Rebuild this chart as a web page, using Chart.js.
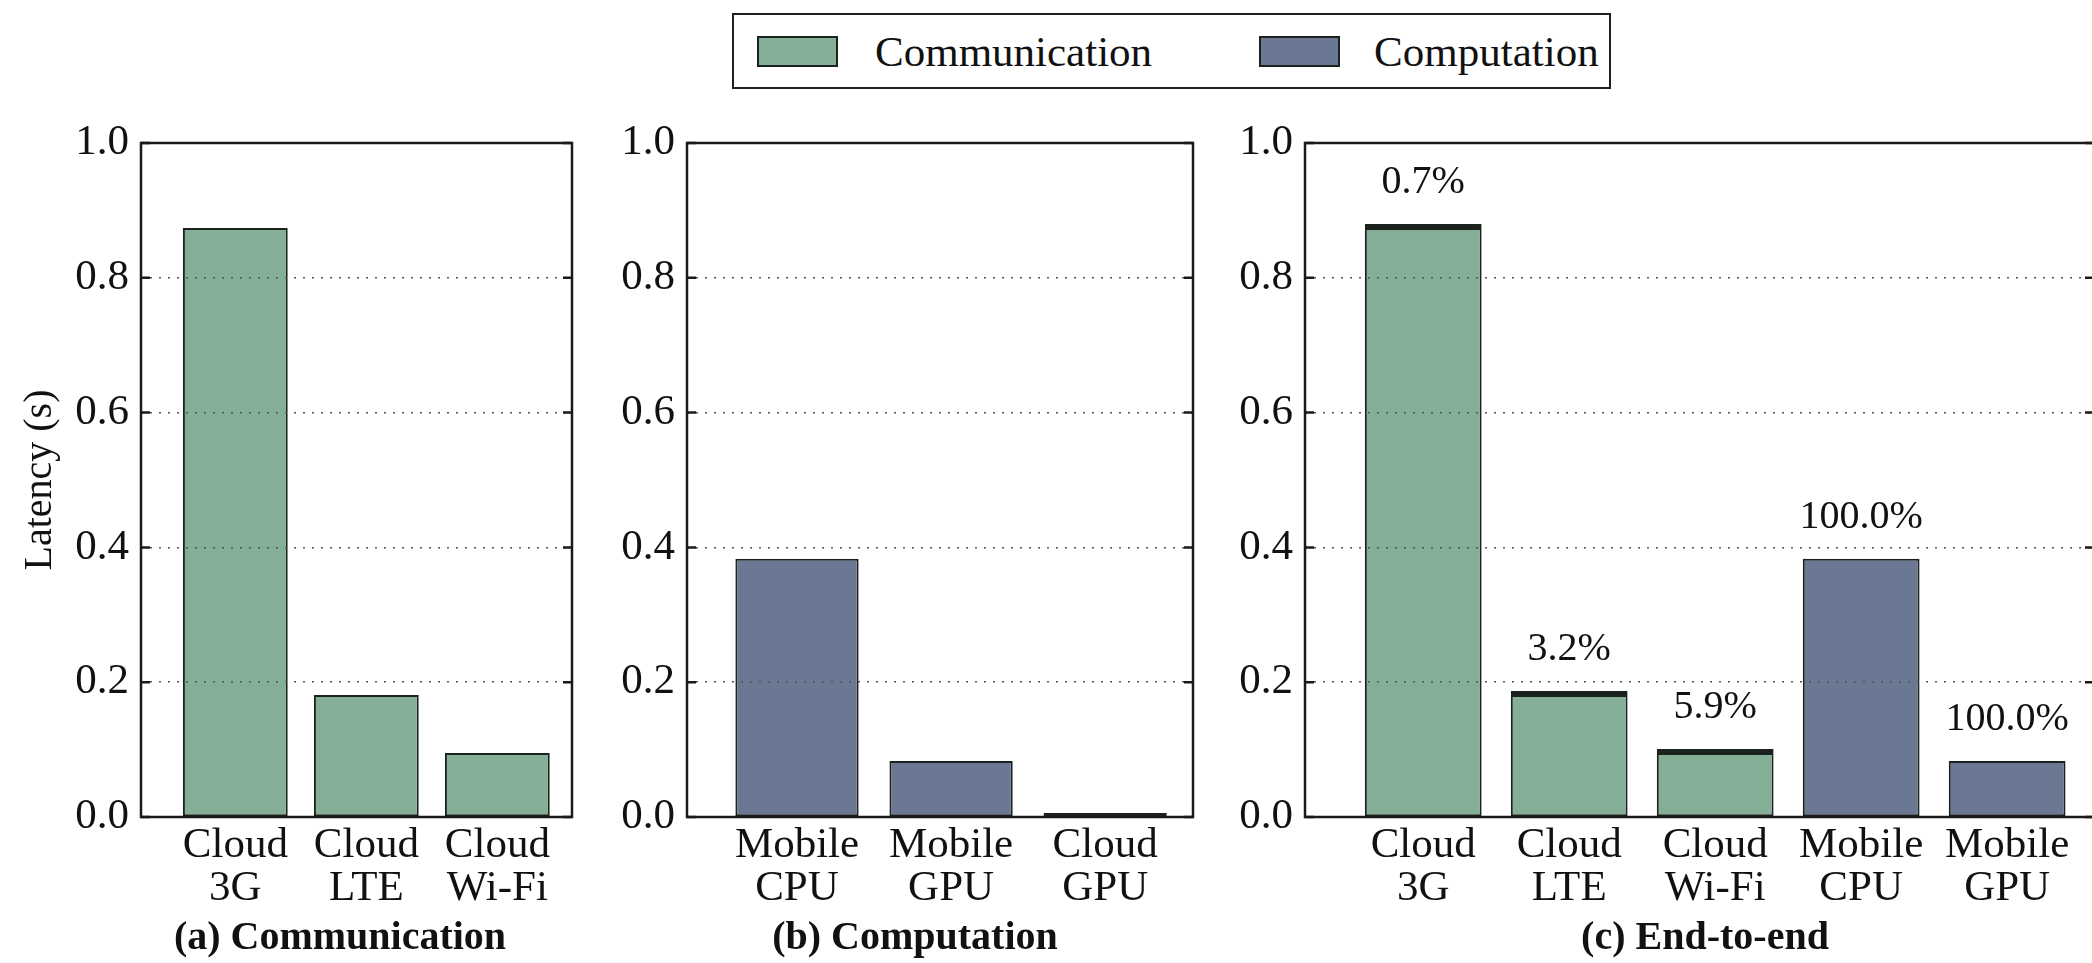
<!DOCTYPE html>
<html>
<head>
<meta charset="utf-8">
<title>Latency breakdown</title>
<script src="https://cdn.jsdelivr.net/npm/chart.js@4/dist/chart.umd.min.js"></script>
<style>
  html, body { margin: 0; padding: 0; background: #fff; width: 2092px; height: 963px; overflow: hidden; }
  canvas { position: absolute; top: 0; }
  #legend {
    position: absolute; left: 732px; top: 13px; width: 875px; height: 72px;
    border: 2px solid #1f1f1f; display: flex; align-items: center;
    font-family: 'Liberation Serif', 'Times New Roman', 'DejaVu Serif', serif; font-size: 43px; color: #111;
  }
  #legend .swatch { display: inline-block; width: 81px; height: 31px; box-sizing: border-box; border: 2px solid; }
  #legend .label { white-space: nowrap; }
</style>
</head>
<body>
<div id="legend"></div>
<canvas id="panelComm" width="680" height="963" style="left:0px"></canvas>
<canvas id="panelComp" width="630" height="963" style="left:600px"></canvas>
<canvas id="panelE2E" width="950" height="963" style="left:1230px"></canvas>
<script>
// ---- data -------------------------------------------------------------
const commCategories = [['Cloud', '3G'], ['Cloud', 'LTE'], ['Cloud', 'Wi-Fi']];
const compCategories = [['Mobile', 'CPU'], ['Mobile', 'GPU'], ['Cloud', 'GPU']];
const e2eCategories  = [['Cloud', '3G'], ['Cloud', 'LTE'], ['Cloud', 'Wi-Fi'], ['Mobile', 'CPU'], ['Mobile', 'GPU']];

const commLatency    = [0.874, 0.181, 0.095];          // seconds
const compLatency    = [0.383, 0.083, 0.006];          // seconds
const e2eCommLatency = [0.874, 0.181, 0.095, null, null];
const e2eCompLatency = [0.006, 0.006, 0.006, 0.383, 0.083];

const yTickValues = [0, 0.2, 0.4, 0.6, 0.8, 1.0];
const seriesNames = ['Communication', 'Computation'];
const captions    = ['(a) Communication', '(b) Computation', '(c) End-to-end'];
const yAxisTitle  = 'Latency (s)';

// ---- style ------------------------------------------------------------
const FONT  = "'Liberation Serif', 'Times New Roman', 'DejaVu Serif', serif";
const GREEN = '#84ae96';
const SLATE = '#6b7893';
const EDGE  = '#1b221e';
const INK   = '#111111';

Chart.defaults.font.family = FONT;
Chart.defaults.color = INK;

function points(values) {
  return values.map((v, i) => ({ x: i, y: v })).filter(p => p.y !== null);
}

function barSet(label, values, color) {
  return {
    label, data: points(values),
    backgroundColor: color, borderColor: EDGE, borderWidth: 2,
    borderSkipped: false, categoryPercentage: 1.0, barPercentage: 0.8
  };
}

// closed axes box with short inward ticks on both vertical spines
const axesFrame = {
  id: 'axesFrame',
  afterDraw(chart) {
    const { ctx, chartArea: a, scales: { y } } = chart;
    ctx.save();
    ctx.strokeStyle = '#1a1a1a';
    ctx.lineWidth = 2.5;
    ctx.beginPath();
    y.ticks.forEach(t => {
      const py = y.getPixelForValue(t.value);
      ctx.moveTo(a.left, py);  ctx.lineTo(a.left + 9, py);
      ctx.moveTo(a.right, py); ctx.lineTo(a.right - 9, py);
    });
    ctx.stroke();
    ctx.strokeRect(a.left, a.top, a.right - a.left, a.bottom - a.top);
    ctx.restore();
  }
};

// share of computation in each end-to-end bar
const shareLabels = {
  id: 'shareLabels',
  afterDatasetsDraw(chart) {
    const { ctx, scales: { x, y } } = chart;
    ctx.save();
    ctx.font = '40px ' + FONT;
    ctx.fillStyle = INK;
    ctx.textAlign = 'center';
    ctx.textBaseline = 'alphabetic';
    e2eCompLatency.forEach((comp, i) => {
      const total = (e2eCommLatency[i] || 0) + comp;
      const share = (comp / total * 100).toFixed(1) + '%';
      ctx.fillText(share, x.getPixelForValue(i), y.getPixelForValue(total) - 31);
    });
    ctx.restore();
  }
};

// figure-level legend built from the chart's own legend items
const htmlLegend = {
  id: 'htmlLegend',
  afterUpdate(chart) {
    const box = document.getElementById('legend');
    box.innerHTML = '';
    const items = chart.options.plugins.legend.labels.generateLabels(chart);
    const gaps = [[23, 37], [107, 34]];
    items.forEach((item, i) => {
      const sw = document.createElement('span');
      sw.className = 'swatch';
      sw.style.background = item.fillStyle;
      sw.style.borderColor = item.strokeStyle;
      sw.style.marginLeft = gaps[i][0] + 'px';
      const tx = document.createElement('span');
      tx.className = 'label';
      tx.textContent = item.text;
      tx.style.marginLeft = gaps[i][1] + 'px';
      box.appendChild(sw);
      box.appendChild(tx);
    });
  }
};

function makePanel(id, cfg) {
  return new Chart(document.getElementById(id), {
    type: 'bar',
    data: { datasets: cfg.datasets },
    options: {
      responsive: false,
      animation: false,
      events: [],
      layout: { padding: { top: 143, bottom: 0, left: 0, right: 0 } },
      plugins: {
        legend: { display: false },
        tooltip: { enabled: false },
        title: {
          display: true, position: 'bottom', text: cfg.caption, color: INK,
          font: { size: 40, weight: 'bold', lineHeight: 1.2 },
          padding: { top: 0, bottom: 0 }
        }
      },
      scales: {
        x: {
          type: 'linear', min: cfg.xMin, max: cfg.xMax, bounds: 'data',
          offset: false, stacked: true,
          grid: { display: false, drawTicks: false, offset: false },
          border: { display: false },
          afterBuildTicks: s => { s.ticks = cfg.labels.map((_, i) => ({ value: i })); },
          afterFit: s => { s.height = 98; },
          ticks: {
            autoSkip: false, maxRotation: 0, minRotation: 0, padding: 7.5,
            font: { size: 43, lineHeight: '43px' },
            callback: v => cfg.labels[v]
          }
        },
        y: {
          type: 'linear', position: 'left', min: 0, max: 1, stacked: true,
          afterBuildTicks: s => { s.ticks = yTickValues.map(v => ({ value: v })); },
          afterFit: s => { s.width = cfg.yWidth; },
          grid: {
            z: 1, drawTicks: false, lineWidth: 1.5,
            color: c => (c.tick && c.tick.value > 0.01 && c.tick.value < 0.99) ? '#555555' : 'rgba(0,0,0,0)'
          },
          border: { display: false, dash: [2, 7] },
          ticks: { padding: 12, font: { size: 43 }, callback: v => v.toFixed(1) },
          title: cfg.yTitle
            ? { display: true, text: cfg.yTitle, font: { size: 40, lineHeight: 1.2 }, padding: { top: 16, bottom: 0 } }
            : { display: false }
        },
        // empty right-hand axis that reserves the space between this panel and the next
        yGap: {
          type: 'linear', position: 'right', display: true, min: 0, max: 1,
          afterFit: s => { s.width = cfg.rightGap; },
          ticks: { display: false },
          grid: { display: false, drawTicks: false },
          border: { display: false },
          title: { display: false }
        }
      }
    },
    plugins: [axesFrame].concat(cfg.extra || [])
  });
}

makePanel('panelComm', {
  caption: captions[0], labels: commCategories,
  datasets: [barSet(seriesNames[0], commLatency, GREEN)],
  yWidth: 141, rightGap: 108, xMin: -0.72, xMax: 2.57,
  yTitle: yAxisTitle
});

makePanel('panelComp', {
  caption: captions[1], labels: compCategories,
  datasets: [barSet(seriesNames[1], compLatency, SLATE)],
  yWidth: 87, rightGap: 37, xMin: -0.714, xMax: 2.57
});

makePanel('panelE2E', {
  caption: captions[2], labels: e2eCategories,
  datasets: [
    barSet(seriesNames[0], e2eCommLatency, GREEN),
    barSet(seriesNames[1], e2eCompLatency, SLATE)
  ],
  yWidth: 75, rightGap: 86, xMin: -0.81, xMax: 4.595,
  extra: [shareLabels, htmlLegend]
});
</script>
</body>
</html>
